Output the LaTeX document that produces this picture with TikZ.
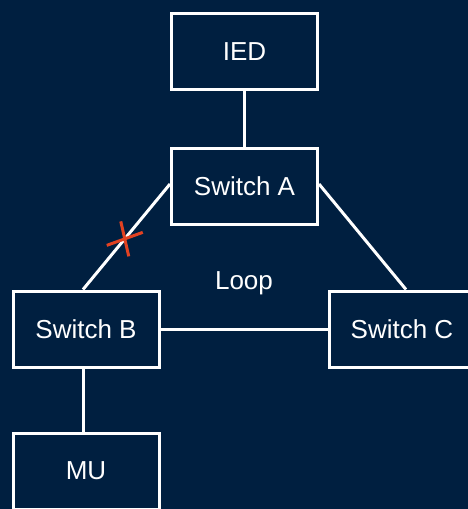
\documentclass[tikz,border=0pt]{standalone}
\usepackage{fontspec}
\setmainfont{Liberation Sans}
\usetikzlibrary{positioning,calc}
\definecolor{navy}{RGB}{0,31,64}
\definecolor{cutred}{RGB}{226,66,34}

\begin{document}
\begin{tikzpicture}[
  cell/.style={rectangle, draw=white, line width=0.06cm, minimum width=2.92cm, minimum height=1.52cm, align=center, text=white, font=\fontsize{14.8}{17}\selectfont},
  link/.style={draw=white, line width=0.06cm},
]
  \clip (0,0) rectangle (9.36,-10.18);
  \fill[navy] (0,0) rectangle (9.36,-10.18);

  \node[cell] (ied) at (4.89,-1.03) {IED};
  \node[cell] (sa)  at (4.89,-3.72) {Switch A};
  \node[cell] (sb)  at (1.72,-6.58) {Switch B};
  \node[cell] (sc)  at (8.04,-6.58) {Switch C};
  \node[cell] (mu)  at (1.72,-9.42) {MU};
  \node[text=white, font=\fontsize{14.8}{17}\selectfont] (loop) at (4.88,-5.66) {Loop};

  \draw[link] (ied) -- (sa);
  \draw[link] ($(sa.west)+(0,0.04)$) -- coordinate[pos=0.52] (cut) ($(sb.north)+(-0.06,0)$);
  \draw[link] ($(sa.east)+(0,0.04)$) -- ($(sc.north)+(0.08,0)$);
  \draw[link] (sb) -- (sc);
  \draw[link] ($(sb.south)+(-0.06,0)$) -- ($(mu.north)+(-0.06,0)$);

  \draw[cutred, line width=0.06cm] ($(cut)+(0.08,-0.35)$) -- ($(cut)+(-0.08,0.35)$);
  \draw[cutred, line width=0.06cm] ($(cut)+(0.36,0.13)$) -- ($(cut)+(-0.36,-0.13)$);
\end{tikzpicture}
\end{document}
